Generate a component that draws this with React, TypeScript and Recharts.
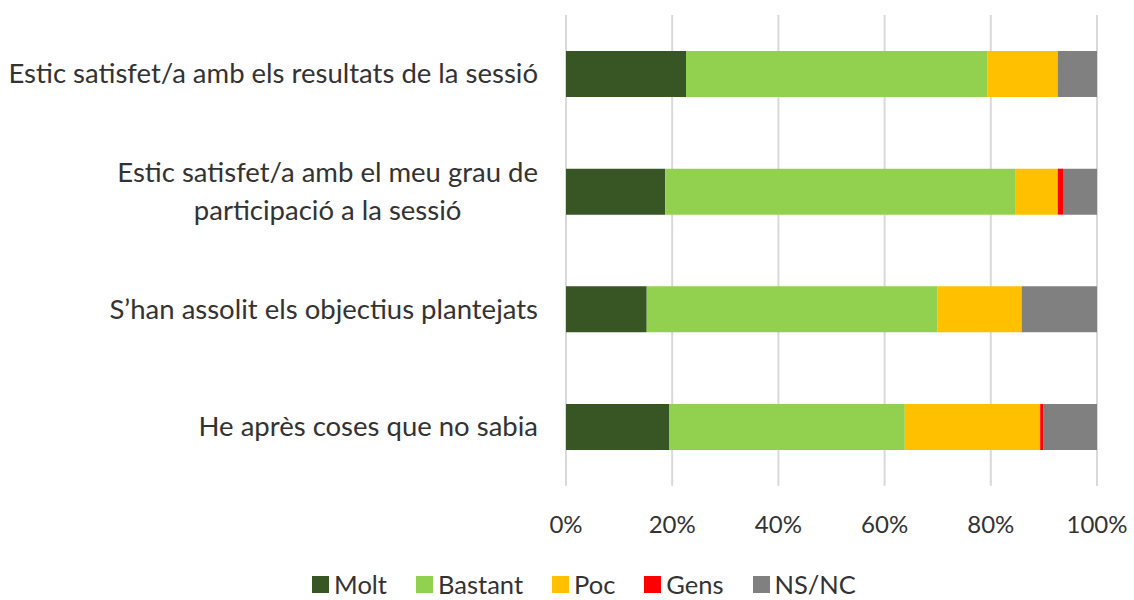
import React from 'react';
import { BarChart, Bar, XAxis, YAxis, CartesianGrid, Legend } from 'recharts';

const categories = [
  'Estic satisfet/a amb els resultats de la sessió',
  'Estic satisfet/a amb el meu grau de\nparticipació a la sessió',
  'S’han assolit els objectius plantejats',
  'He après coses que no sabia',
];
const molt = [22.6, 18.7, 15.2, 19.4];
const bastant = [56.8, 66.0, 54.7, 44.4];
const poc = [13.2, 7.9, 15.9, 25.5];
const gens = [0, 1.0, 0, 0.6];
const nsnc = [7.4, 6.4, 14.2, 10.1];
const xTicks = [0, 20, 40, 60, 80, 100];

const seriesNames = ['Molt', 'Bastant', 'Poc', 'Gens', 'NS/NC'];
const seriesKeys = ['molt', 'bastant', 'poc', 'gens', 'nsnc'];
const seriesColors = ['#375623', '#92D050', '#FFC000', '#FF0000', '#808080'];

const data = categories.map((name, i) => ({
  name,
  molt: molt[i],
  bastant: bastant[i],
  poc: poc[i],
  gens: gens[i],
  nsnc: nsnc[i],
}));

const FONT = 'Lato, "Open Sans", sans-serif';
const FS_Y = 27.5;
const FS_X = 24;
const FS_L = 25.5;
const TEXT = '#333333';

let ctx: CanvasRenderingContext2D | null = null;
const measure = (s: string) => {
  if (!ctx) ctx = document.createElement('canvas').getContext('2d');
  if (!ctx) return s.length * FS_Y * 0.5;
  ctx.font = `${FS_Y}px Lato`;
  return ctx.measureText(s).width;
};

const YTick = (props: any) => {
  const { x, y, payload } = props;
  const lines = String(payload.value).split('\n');
  const right = x - 20;
  if (lines.length === 1) {
    return (
      <text x={right} y={y} dy="0.35em" textAnchor="end" fontSize={FS_Y} fontFamily={FONT} fill={TEXT}>
        {lines[0]}
      </text>
    );
  }
  const w = Math.max(...lines.map(measure));
  const cx = right - w / 2;
  const lh = 38;
  return (
    <text x={cx} y={y} textAnchor="middle" fontSize={FS_Y} fontFamily={FONT} fill={TEXT}>
      {lines.map((l, i) => (
        <tspan key={i} x={cx} y={y + (i - (lines.length - 1) / 2) * lh} dy="0.35em">
          {l}
        </tspan>
      ))}
    </text>
  );
};

const XTick = (props: any) => {
  const { x, y, payload } = props;
  return (
    <text x={x} y={y + 39} textAnchor="middle" fontSize={FS_X} fontFamily={FONT} fill={TEXT}>
      {`${payload.value}%`}
    </text>
  );
};

const LegendContent = () => (
  <div
    style={{
      display: 'flex',
      justifyContent: 'center',
      alignItems: 'center',
      lineHeight: 1.15,
      fontFamily: FONT,
      fontSize: FS_L,
      color: TEXT,
      gap: 29,
      paddingLeft: 34,
      paddingBottom: 1,
      boxSizing: 'border-box',
      width: 1134,
    }}
  >
    {seriesNames.map((n, i) => (
      <div key={n} style={{ display: 'flex', alignItems: 'center' }}>
        <span style={{ width: 17, height: 17, background: seriesColors[i], display: 'inline-block', marginRight: 5 }} />
        <span>{n}</span>
      </div>
    ))}
  </div>
);

export default function App() {
  return (
    <div style={{ position: 'absolute', left: 0, top: 0, width: 1134, height: 600, background: '#fff' }}>
      <BarChart
        width={1134}
        height={600}
        data={data}
        layout="vertical"
        margin={{ top: 15, right: 37, bottom: 0, left: 0 }}
        barSize={46}
      >
        <CartesianGrid horizontal={false} stroke="#d9d9d9" strokeWidth={2} />
        <XAxis
          type="number"
          domain={[0, 100]}
          ticks={xTicks}
          axisLine={false}
          tickLine={false}
          height={84}
          tick={<XTick />}
          interval={0}
        />
        <YAxis
          type="category"
          dataKey="name"
          width={566}
          axisLine={false}
          tickLine={false}
          tick={<YTick />}
          interval={0}
        />
        <Legend
          verticalAlign="bottom"
          content={<LegendContent />}
          wrapperStyle={{ left: 0, width: 1134, bottom: 0 }}
        />
        {seriesKeys.map((k, i) => (
          <Bar key={k} dataKey={k} name={seriesNames[i]} stackId="a" fill={seriesColors[i]} isAnimationActive={false} />
        ))}
      </BarChart>
    </div>
  );
}
